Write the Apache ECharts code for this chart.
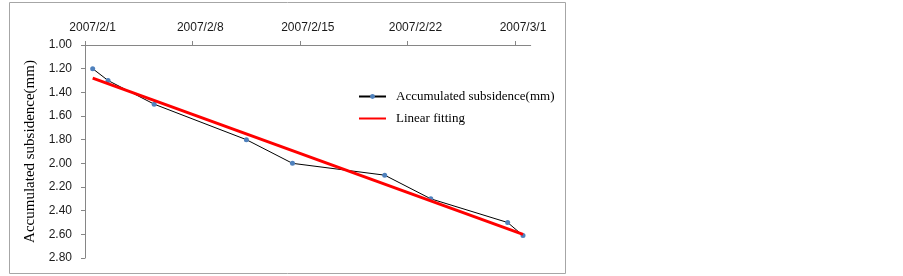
<!DOCTYPE html>
<html>
<head>
<meta charset="utf-8">
<script src="https://cdn.jsdelivr.net/npm/echarts@6/dist/echarts.min.js"></script>
<style>
html,body{margin:0;padding:0;background:#fff;}
#c{width:903px;height:276px;}
</style>
</head>
<body>
<div id="c"></div>
<script>
var dates = ['2007/2/1','2007/2/2','2007/2/5','2007/2/11','2007/2/14','2007/2/20','2007/2/23','2007/2/28','2007/3/1'];
var subsidence = [1.20, 1.30, 1.50, 1.80, 2.00, 2.10, 2.30, 2.50, 2.61];
var fitDates = ['2007/2/1','2007/3/1'];
var fitValues = [1.28, 2.60];
var yTicks = [1.00, 1.20, 1.40, 1.60, 1.80, 2.00, 2.20, 2.40, 2.60, 2.80];
var xTickDates = ['2007/2/1','2007/2/8','2007/2/15','2007/2/22','2007/3/1'];
var axisStart = '2007/2/1';
var axisEnd = '2007/3/2';

var DAY = 86400000;
function parseD(s){var p=s.split('/');return Date.UTC(+p[0],+p[1]-1,+p[2]);}
function dayOff(s){return (parseD(s)-parseD(axisStart))/DAY;}
function fmtDay(v){var d=new Date(parseD(axisStart)+Math.floor(v)*DAY);return d.getUTCFullYear()+'/'+(d.getUTCMonth()+1)+'/'+d.getUTCDate();}

var mainData = dates.map(function(d,i){return [dayOff(d)+0.5, subsidence[i]];});
var fitData = fitDates.map(function(d,i){return [dayOff(d)+0.5, fitValues[i]];});
var tickVals = xTickDates.map(dayOff);
var labelVals = xTickDates.map(function(d){return dayOff(d)+0.5;});

var chart = echarts.init(document.getElementById('c'), null, {renderer:'canvas'});
var axisColor = '#868686';
var labFont = {fontFamily:'Liberation Sans', fontSize:12, color:'#1a1a1a'};
chart.setOption({
  animation:false,
  backgroundColor:'#fff',
  graphic:[{type:'rect', shape:{x:9.5,y:2.5,width:556,height:271}, style:{fill:'none',stroke:'#a6a6a6',lineWidth:1}, silent:true}],
  grid:{left:85, top:45, width:445.7, height:213, containLabel:false},
  xAxis:{
    type:'value', position:'top', min:0, max:dayOff(axisEnd),
    axisLine:{show:true, onZero:false, lineStyle:{color:axisColor,width:1}},
    axisTick:{show:true, inside:false, length:4, customValues:tickVals, lineStyle:{color:axisColor}},
    axisLabel:Object.assign({margin:11, customValues:labelVals, formatter:function(v){return fmtDay(v);}}, labFont),
    splitLine:{show:false}
  },
  yAxis:{
    type:'value', inverse:true, min:yTicks[0], max:yTicks[yTicks.length-1], interval:0.2,
    name:'Accumulated subsidence(mm)', nameLocation:'middle', nameRotate:90, nameGap:47,
    nameTextStyle:{fontFamily:'Liberation Serif', fontSize:15, color:'#000'},
    axisLine:{show:true, lineStyle:{color:axisColor,width:1}},
    axisTick:{show:true, inside:false, length:4, lineStyle:{color:axisColor}},
    axisLabel:Object.assign({margin:13, formatter:function(v){return v.toFixed(2);}}, labFont),
    splitLine:{show:false}
  },
  legend:{
    orient:'vertical', left:353, top:85, itemWidth:27, itemHeight:6, itemGap:9,
    textStyle:{fontFamily:'Liberation Serif', fontSize:13, color:'#000', padding:[0,0,0,5]},
    data:[{name:'Accumulated subsidence(mm)'},{name:'Linear fitting', itemStyle:{opacity:0}}]
  },
  series:[
    {name:'Accumulated subsidence(mm)', type:'line', data:mainData, symbol:'circle', symbolSize:5,
     lineStyle:{color:'#000',width:1}, itemStyle:{color:'#4f81bd'}, z:2},
    {name:'Linear fitting', type:'line', data:fitData, symbol:'none',
     lineStyle:{color:'#ff0000',width:3}, itemStyle:{color:'#ff0000'}, z:3}
  ]
});
</script>
</body>
</html>
